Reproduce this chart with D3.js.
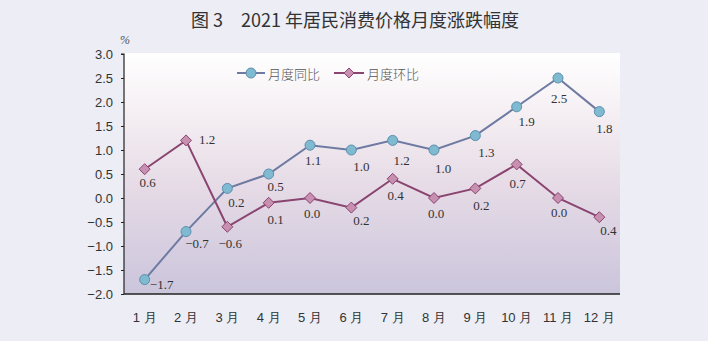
<!DOCTYPE html>
<html><head><meta charset="utf-8">
<script src="https://cdn.jsdelivr.net/npm/d3@7"></script>
<style>
html,body{margin:0;padding:0;background:#ecedf5;}
svg{display:block;}
</style></head>
<body>
<svg id="c" width="708" height="341"></svg>
<script>
const months = ["1 月","2 月","3 月","4 月","5 月","6 月","7 月","8 月","9 月","10 月","11 月","12 月"];
const yoyValues = [-1.7,-0.7,0.2,0.5,1.1,1.0,1.2,1.0,1.3,1.9,2.5,1.8];
const momValues = [0.6,1.2,-0.6,-0.1,0.0,-0.2,0.4,0.0,0.2,0.7,0.0,-0.4];
const yoyLabels = ["−1.7","−0.7","0.2","0.5","1.1","1.0","1.2","1.0","1.3","1.9","2.5","1.8"];
const momLabels = ["0.6","1.2","−0.6","0.1","0.0","0.2","0.4","0.0","0.2","0.7","0.0","0.4"];
const yTicks = [3.0,2.5,2.0,1.5,1.0,0.5,0.0,-0.5,-1.0,-1.5,-2.0];
const seriesNames = ["月度同比","月度环比"];
const titleText = "图 3　2021 年居民消费价格月度涨跌幅度";

// layout (label offsets relative to the point)
const yoyOff = [[17,5],[11,12],[9,14],[7,12],[3,15],[10,16],[9,20],[9,18],[11,17],[10,15],[1,20],[5,17]];
const momOff = [[3,13],[21,-1],[3,17],[7,17],[2,15],[10,13],[3,17],[2,15],[6,17],[1,19],[1,14],[9,13]];

const svg = d3.select("#c");
const L = 124, R = 620, T = 54, B = 294;

const defs = svg.append("defs");
const g = defs.append("linearGradient").attr("id","bg").attr("x1",0).attr("y1",0).attr("x2",0).attr("y2",1);
g.append("stop").attr("offset","0%").attr("stop-color","#ffffff");
g.append("stop").attr("offset","25%").attr("stop-color","#f5eff3");
g.append("stop").attr("offset","55%").attr("stop-color","#e6dbe6");
g.append("stop").attr("offset","100%").attr("stop-color","#cbc5dc");

svg.append("rect").attr("x",L).attr("y",T-1).attr("width",R-L).attr("height",B-T+1).attr("fill","url(#bg)");

const x = d3.scaleBand().domain(months).range([L,R]);
const y = d3.scaleLinear().domain([-2,3]).range([B,T]);
const cx = m => x(m) + x.bandwidth()/2;

svg.append("text").attr("x",355).attr("y",27).attr("text-anchor","middle")
  .attr("font-family","'Noto Sans CJK SC', sans-serif").attr("font-size",18).attr("font-weight",400)
  .attr("fill","#333").text(titleText);

svg.append("text").attr("x",125).attr("y",44).attr("text-anchor","middle")
  .attr("font-family","'Liberation Serif', serif").attr("font-style","italic").attr("font-size",12)
  .attr("fill","#555").text("%");

// y axis
const ya = svg.append("g").attr("transform",`translate(${L},0)`)
  .call(d3.axisLeft(y).tickValues(yTicks).tickSize(3).tickPadding(8)
    .tickFormat(d => d3.format(".1f")(d).replace("-","−")));
ya.select(".domain").attr("stroke","#222").attr("stroke-width",1.2).attr("d",`M-3,${T}H0V${B}`);
ya.selectAll(".tick line").attr("stroke","#222");
ya.selectAll("text").attr("font-family","'Liberation Sans', Arial, sans-serif").attr("font-size",13).attr("fill","#333");

// x axis
const xa = svg.append("g").attr("transform",`translate(0,${B})`)
  .call(d3.axisBottom(x).tickSize(0).tickPadding(19));
xa.select(".domain").attr("stroke","#222").attr("stroke-width",1.4).attr("d",`M${L},0H${R}`);
xa.selectAll("text").attr("font-family","'Liberation Sans', Arial, sans-serif").attr("font-size",13).attr("fill","#333");

const line = d3.line().x((d,i)=>cx(months[i])).y(d=>y(d));
const blueLine = "#6e7aa2", blueFill = "#7fbad0", blueStroke = "#5d8fae";
const pinkLine = "#8a4470", pinkFill = "#c78fb0", pinkStroke = "#8a4470";

svg.append("path").datum(yoyValues).attr("d",line).attr("fill","none").attr("stroke",blueLine).attr("stroke-width",2);
svg.append("path").datum(momValues).attr("d",line).attr("fill","none").attr("stroke",pinkLine).attr("stroke-width",2);

const diamond = (px,py,r) => `M${px},${py-r}L${px+r},${py}L${px},${py+r}L${px-r},${py}Z`;

svg.selectAll("circle.yoy").data(yoyValues).enter().append("circle")
  .attr("cx",(d,i)=>cx(months[i])).attr("cy",d=>y(d)).attr("r",5)
  .attr("fill",blueFill).attr("stroke",blueStroke).attr("stroke-width",1);
svg.selectAll("path.mom").data(momValues).enter().append("path").attr("class","mom")
  .attr("d",(d,i)=>diamond(cx(months[i]),y(d),5.5))
  .attr("fill",pinkFill).attr("stroke",pinkStroke).attr("stroke-width",1);

const lblFont = "'Liberation Serif', 'Times New Roman', serif";
svg.selectAll("text.yl").data(yoyValues).enter().append("text")
  .attr("x",(d,i)=>cx(months[i])+yoyOff[i][0]).attr("y",(d,i)=>y(d)+yoyOff[i][1])
  .attr("text-anchor","middle").attr("dominant-baseline","central")
  .attr("font-family",lblFont).attr("font-size",13).attr("fill","#333")
  .text((d,i)=>yoyLabels[i]);
svg.selectAll("text.ml").data(momValues).enter().append("text")
  .attr("x",(d,i)=>cx(months[i])+momOff[i][0]).attr("y",(d,i)=>y(d)+momOff[i][1])
  .attr("text-anchor","middle").attr("dominant-baseline","central")
  .attr("font-family",lblFont).attr("font-size",13).attr("fill","#333")
  .text((d,i)=>momLabels[i]);

// legend
const lg = svg.append("g");
const ly = 73;
lg.append("line").attr("x1",237).attr("x2",265).attr("y1",ly).attr("y2",ly).attr("stroke",blueLine).attr("stroke-width",2);
lg.append("circle").attr("cx",251).attr("cy",ly).attr("r",5).attr("fill",blueFill).attr("stroke",blueStroke);
lg.append("text").attr("x",268).attr("y",ly).attr("dominant-baseline","central")
  .attr("font-family","'Noto Sans CJK SC', sans-serif").attr("font-weight",300).attr("font-size",13).attr("fill","#555").text(seriesNames[0]);
lg.append("line").attr("x1",334).attr("x2",364).attr("y1",ly).attr("y2",ly).attr("stroke",pinkLine).attr("stroke-width",2);
lg.append("path").attr("d",diamond(349,ly,5)).attr("fill",pinkFill).attr("stroke",pinkStroke);
lg.append("text").attr("x",367).attr("y",ly).attr("dominant-baseline","central")
  .attr("font-family","'Noto Sans CJK SC', sans-serif").attr("font-weight",300).attr("font-size",13).attr("fill","#555").text(seriesNames[1]);
</script>
</body></html>
